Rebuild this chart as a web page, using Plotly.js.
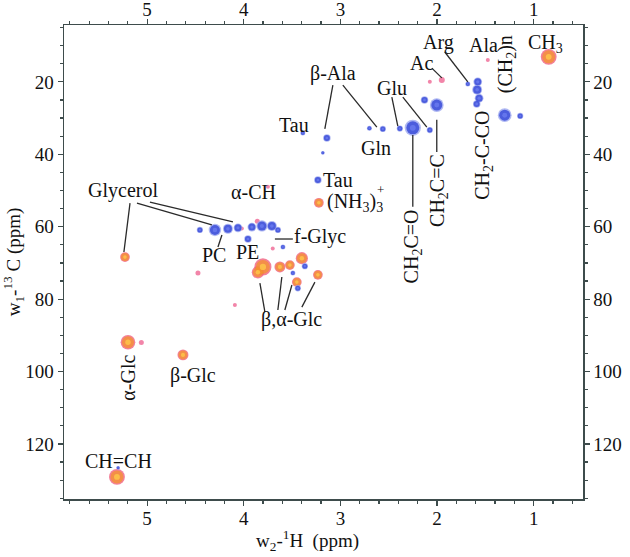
<!DOCTYPE html>
<html>
<head>
<meta charset="utf-8">
<script src="https://cdn.plot.ly/plotly-3.0.1.min.js"></script>
<style>html,body{margin:0;padding:0;background:#fff;}#chart{width:630px;height:557px;}</style>
</head>
<body>
<div id="chart"></div>
<script>
// Positive (orange) cross peaks: 1H ppm, 13C ppm, relative size
const posH = [0.845, 5.198, 4.629, 5.312, 5.229, 3.802, 3.854, 3.626, 3.523, 3.399, 3.451, 3.233, 3.223];
const posC = [13.1, 91.9, 95.4, 129.1, 68.4, 71.1, 72.6, 71.1, 70.6, 68.7, 75.3, 73.3, 53.4];
const posS = [13, 12, 9, 13, 8, 14, 10, 9, 8, 10, 8, 8, 8];

// Negative (blue) cross peaks
const negH = [1.30, 1.14, 1.579, 1.585, 1.565, 1.59, 1.682, 2.003, 2.13, 2.251, 2.385, 2.075, 2.561, 2.70,
              3.140, 3.182, 3.389, 3.233, 4.454, 4.298, 4.164, 4.06, 3.916, 3.812, 3.709, 3.647, 3.957,
              3.595, 3.368, 3.441, 3.492, 5.30];
const negC = [29.2, 29.4, 20.0, 22.2, 24.5, 26.1, 20.6, 26.4, 25.0, 32.7, 32.9, 33.3, 33.0, 32.8,
              35.5, 39.6, 34.1, 47.1, 60.9, 60.9, 60.6, 60.3, 60.1, 59.8, 59.8, 60.9, 63.4,
              65.6, 70.9, 77.0, 72.8, 126.6];
const negS = [11, 5, 7, 8, 7, 6, 4, 11, 6, 13, 5, 5, 5, 4,
              6, 3, 4, 6, 5, 10, 8, 7, 7, 9, 8, 5, 6,
              4, 5, 5, 4, 3];

// Small pink specks
const speckH = [1.475, 1.951, 2.075, 4.474, 4.092, 3.75, 3.86, 4.02, 3.70, 5.06];
const speckC = [14.0, 19.5, 20.0, 72.8, 81.6, 49.0, 58.5, 60.5, 66.0, 92.0];
const speckS = [4, 6, 4, 5, 4, 4, 5, 4, 4, 5];

// Labels
const labelText = ["CH<sub>3</sub>", "Ala", "Arg", "Ac", "(CH<sub>2</sub>)n", "CH<sub>2</sub>-C-CO",
  "CH<sub>2</sub>C=C", "CH<sub>2</sub>C=O", "Glu", "Gln", "β-Ala", "Tau", "Tau", "(NH<sub>3</sub>)<sub>3</sub>", "+",
  "f-Glyc", "α-CH", "Glycerol", "PC", "PE", "β,α-Glc", "α-Glc", "β-Glc", "CH=CH"];
const labelH = [0.876, 1.515, 1.982, 2.158, 1.285, 1.527, 1.992, 2.251, 2.468, 2.634, 3.078, 3.482, 3.027, 2.851, 2.585,
  3.213, 3.895, 5.25, 4.309, 3.957, 3.502, 5.198, 4.526, 5.291];
const labelC = [9.3, 9.8, 9.0, 14.8, 15.1, 40.2, 49.9, 65.5, 21.7, 38.3, 17.8, 31.9, 47.1, 53.2, 49.8,
  62.6, 50.4, 49.9, 67.8, 67.0, 85.7, 101.7, 101.2, 124.7];
const labelAngle = [0, 0, 0, 0, -90, -90, -90, -90, 0, 0, 0, 0, 0, 0, 0, 0, 0, 0, 0, 0, 0, -90, 0, 0];

// Leader lines (start H, start C, end H, end C)
const lineH0 = [1.920, 2.054, 2.468, 2.354, 3.078, 2.975, 2.251, 2.003, 3.678, 5.177, 5.105, 4.971, 4.267, 3.781, 3.647, 3.575, 3.399];
const lineC0 = [11.75, 16.2, 24.2, 24.2, 20.9, 20.9, 34.7, 30.5, 63.4, 53.5, 53.5, 53.2, 65.6, 83.6, 83.0, 83.0, 82.2];
const lineH1 = [1.682, 1.951, 2.406, 2.106, 3.161, 2.623, 2.251, 2.003, 3.492, 5.240, 4.330, 4.112, 4.226, 3.833, 3.606, 3.502, 3.264];
const lineC1 = [20.0, 18.9, 32.2, 32.5, 33.0, 32.5, 54.5, 39.4, 63.4, 67.0, 59.5, 58.7, 62.3, 75.6, 73.9, 76.1, 75.3];

const xTicks = [1, 2, 3, 4, 5];
const yTicks = [20, 40, 60, 80, 100, 120];
const xRange = [5.86, 0.49];
const yRange = [135.2, 4.3];

const FONT = "Liberation Serif, Times New Roman, serif";
const scale = (arr, f) => arr.map(v => v * f);

const traces = [
  {x: speckH, y: speckC, mode: "markers", type: "scatter", hoverinfo: "skip",
   marker: {size: speckS, color: "#ee5c8c", opacity: 0.75, line: {width: 0}}},
  {x: posH, y: posC, mode: "markers", type: "scatter", hoverinfo: "skip",
   marker: {size: scale(posS, 1.22), color: "#f0607e", opacity: 0.8, line: {width: 0}}},
  {x: posH, y: posC, mode: "markers", type: "scatter", hoverinfo: "skip",
   marker: {size: posS, color: "#f39428", line: {width: 0}}},
  {x: posH, y: posC, mode: "markers", type: "scatter", hoverinfo: "skip",
   marker: {size: scale(posS, 0.45), color: "#ffd24a", line: {width: 0}}},
  {x: negH, y: negC, mode: "markers", type: "scatter", hoverinfo: "skip",
   marker: {size: scale(negS, 1.25), color: "#9ba6ef", opacity: 0.8, line: {width: 0}}},
  {x: negH, y: negC, mode: "markers", type: "scatter", hoverinfo: "skip",
   marker: {size: negS, color: "#2236d4", line: {width: 0}}},
  {x: negH, y: negC, mode: "markers", type: "scatter", hoverinfo: "skip",
   marker: {size: scale(negS, 0.45), color: "#6f80f2", line: {width: 0}}},
  {x: [], y: [], xaxis: "x2", yaxis: "y2", type: "scatter", mode: "markers", hoverinfo: "skip"}
];

const annotations = labelText.map((t, i) => ({
  x: labelH[i], y: labelC[i], xref: "x", yref: "y", text: t, showarrow: false,
  textangle: labelAngle[i], font: {family: FONT, size: t === "+" ? 13 : 20, color: "#111"},
  xanchor: "center", yanchor: "middle"
}));
annotations.push({
  x: 0.47, y: -0.087, xref: "paper", yref: "paper", showarrow: false,
  xanchor: "center", yanchor: "middle",
  text: "w<sub>2</sub>-<sup>1</sup>H  (ppm)", font: {family: FONT, size: 19, color: "#111"}
});

const shapes = lineH0.map((h, i) => ({
  type: "line", xref: "x", yref: "y", x0: h, y0: lineC0[i], x1: lineH1[i], y1: lineC1[i],
  line: {color: "#2a2a2a", width: 1.3}
}));

const axisCommon = {
  showgrid: false, zeroline: false, showline: true, linecolor: "#3e4c4c", linewidth: 1.5,
  ticks: "outside", ticklen: 5, tickwidth: 1.2, tickcolor: "#3e4c4c",
  tickfont: {family: FONT, size: 19, color: "#111"}
};

const layout = {
  width: 630, height: 557,
  margin: {l: 64, r: 47, t: 25, b: 58},
  paper_bgcolor: "#fff", plot_bgcolor: "#fff",
  showlegend: false,
  xaxis: Object.assign({}, axisCommon, {
    range: xRange, tickvals: xTicks, ticktext: xTicks.map(String), ticklabelstandoff: -3,
    minor: {dtick: 0.2, ticks: "outside", ticklen: 3, tickcolor: "#3e4c4c"}
  }),
  xaxis2: Object.assign({}, axisCommon, {
    range: xRange, tickvals: xTicks, ticktext: xTicks.map(String), overlaying: "x", side: "top",
    ticklabelstandoff: -5,
    minor: {dtick: 0.2, ticks: "outside", ticklen: 3, tickcolor: "#3e4c4c"}
  }),
  yaxis: Object.assign({}, axisCommon, {
    range: yRange, tickvals: yTicks, ticktext: yTicks.map(String),
    title: {text: "w<sub>1</sub>-<sup>13</sup> C (ppm)", font: {family: FONT, size: 19, color: "#111"}, standoff: 8},
    minor: {dtick: 5, ticks: "outside", ticklen: 3, tickcolor: "#3e4c4c"}
  }),
  yaxis2: Object.assign({}, axisCommon, {
    range: yRange, tickvals: yTicks, ticktext: yTicks.map(String), overlaying: "y", side: "right",
    minor: {dtick: 5, ticks: "outside", ticklen: 3, tickcolor: "#3e4c4c"}
  }),
  annotations: annotations,
  shapes: shapes
};

Plotly.newPlot("chart", traces, layout, {staticPlot: true, displayModeBar: false});
</script>
</body>
</html>
